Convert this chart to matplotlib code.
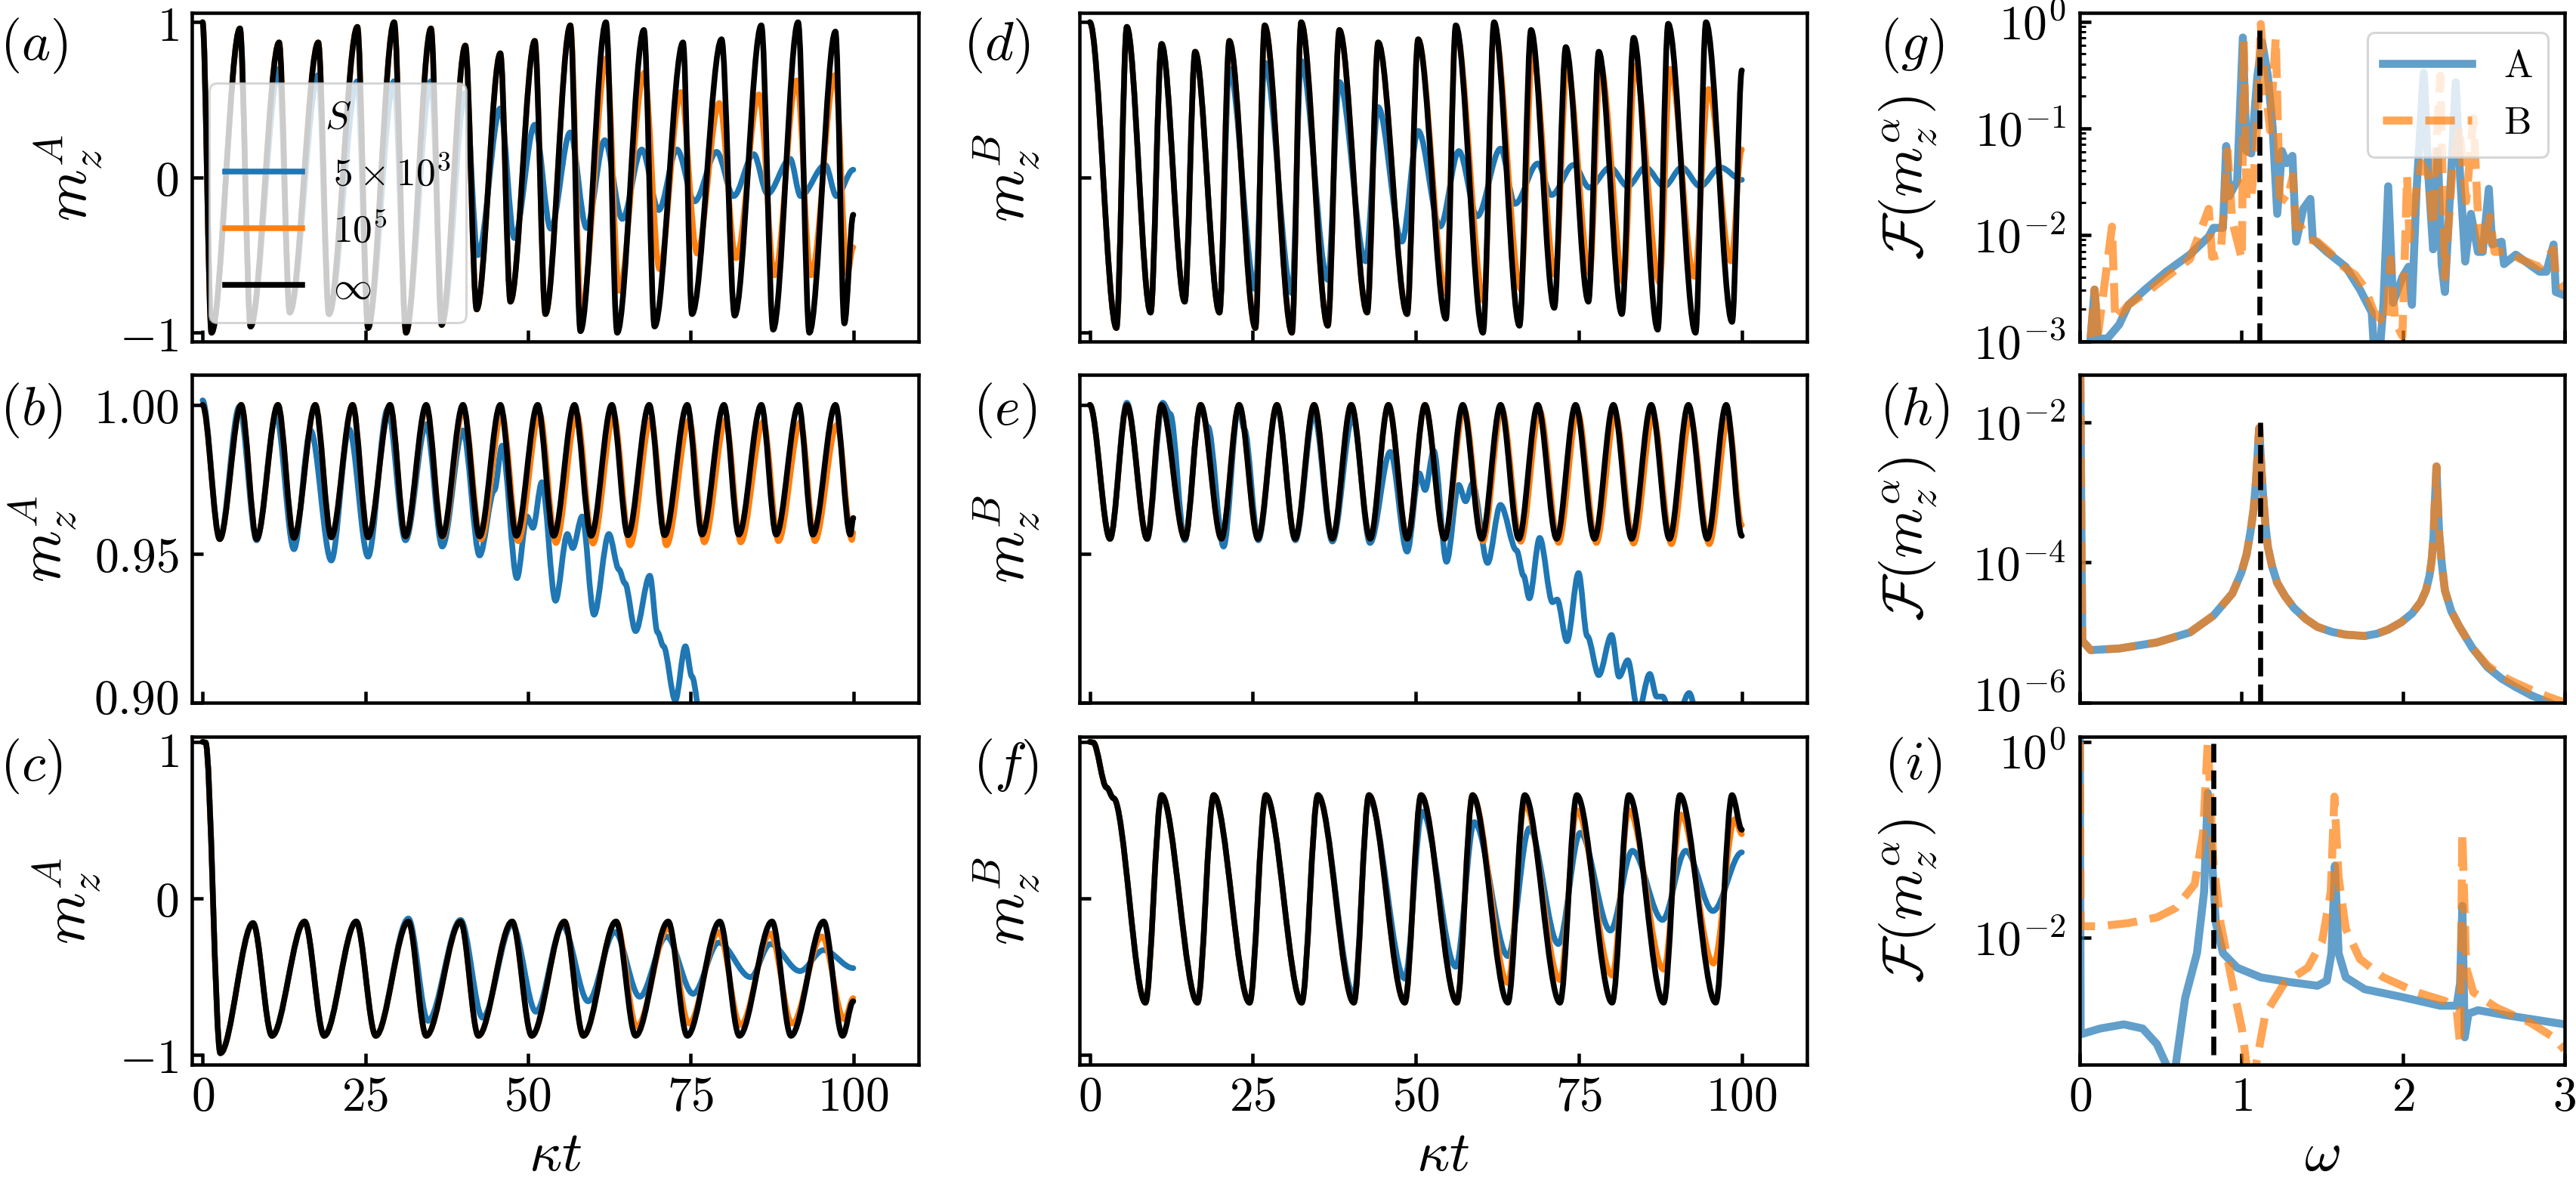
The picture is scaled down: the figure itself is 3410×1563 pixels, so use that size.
import matplotlib
matplotlib.use("Agg")
import matplotlib.pyplot as plt
from matplotlib.path import Path
from matplotlib.patches import PathPatch
from matplotlib.lines import Line2D
from matplotlib.ticker import LogLocator, NullLocator, NullFormatter
from matplotlib.transforms import ScaledTranslation

plt.rcParams['mathtext.fontset'] = 'cm'
plt.rcParams['font.family'] = 'serif'
plt.rcParams['axes.linewidth'] = 1.5

# ---------------- time series m_z (kappa t, value) ----------------
# panel (a): m_z^A, S = inf / 1e5 / 5e3
a_inf = [(0, 1.0), (1.37, -1.0), (5.74, 0.96), (7.38, -0.96), (11.76, 0.87), (13.40, -0.87),
         (17.78, 0.87), (19.42, -0.88), (23.79, 0.97), (25.43, -0.97), (29.44, 1.0), (31.27, -1.0),
         (35.10, 0.96), (36.74, -0.95), (40.38, 0.85), (42.12, -0.85), (45.76, 0.80), (47.31, -0.80),
         (51.05, 0.88), (52.69, -0.88), (56.52, 0.98), (58.07, -0.99), (61.99, 1.0), (63.72, -1.0),
         (67.82, 0.95), (69.46, -0.96), (73.84, 0.87), (75.21, -0.88), (79.76, 0.89), (81.77, -0.89),
         (85.87, 0.98), (87.69, -0.98), (91.52, 1.0), (93.25, -1.0), (97.26, 0.94), (98.63, -0.94),
         (100, -0.24)]
a_1e5 = a_inf[:21] + [(58.2, -0.87), (62.1, 0.77), (64.0, -0.73), (67.9, 0.675), (70.2, -0.59),
                      (73.5, 0.55), (76.0, -0.49), (79.4, 0.48), (82.0, -0.52), (85.5, 0.535),
                      (87.9, -0.63), (91.3, 0.625), (93.5, -0.63), (97.2, 0.66), (99.1, -0.62),
                      (100, -0.45)]
a_5e3 = a_inf[:4] + [(11.76, 0.70), (13.40, -0.87), (17.78, 0.66), (19.42, -0.88), (23.79, 0.62),
                     (25.43, -0.95), (29.44, 0.62), (31.27, -0.97), (35.10, 0.62), (36.9, -0.92),
                     (40.38, 0.545), (42.3, -0.50), (45.76, 0.445), (47.9, -0.39), (51.05, 0.34),
                     (53.5, -0.33), (56.5, 0.29), (59.0, -0.325), (61.8, 0.24), (64.5, -0.267),
                     (67.5, 0.18), (70.1, -0.21), (72.9, 0.18), (75.6, -0.154), (79.0, 0.165),
                     (81.6, -0.12), (84.7, 0.15), (86.8, -0.105), (90.3, 0.12), (91.9, -0.12),
                     (95.7, 0.081), (97.4, -0.12), (100, 0.05)]

# panel (b): m_z^A
b_inf = [(0, 1.0), (2.64, 0.9549), (5.93, 1.0), (8.30, 0.9549), (11.58, 1.0), (14.04, 0.9553),
         (17.32, 1.0), (19.78, 0.9555), (23.06, 1.0), (25.43, 0.9555), (28.81, 1.0), (31.18, 0.9558),
         (34.37, 1.0), (36.83, 0.9558), (40.02, 1.0), (42.57, 0.9558), (45.76, 1.0), (48.22, 0.956),
         (51.50, 1.0), (53.97, 0.956), (57.16, 1.0), (59.71, 0.956), (62.90, 1.0), (65.36, 0.9562),
         (68.64, 1.0), (71.01, 0.9562), (74.48, 1.0), (76.75, 0.9564), (80.13, 1.0), (82.41, 0.9564),
         (85.87, 1.0), (88.15, 0.9564), (91.61, 1.0), (93.80, 0.9564), (97.26, 1.0), (99.54, 0.9564),
         (100, 0.962)]
b_1e5 = b_inf[:12] + [(34.4, 0.9992), (36.9, 0.9556), (40.1, 0.9985), (42.8, 0.9548), (46.0, 0.9971),
                      (48.5, 0.9542), (51.8, 0.9971), (54.3, 0.9536), (57.5, 0.997), (60.0, 0.9534),
                      (63.2, 0.9965), (65.7, 0.9528), (68.9, 0.9953), (71.3, 0.9528), (74.8, 0.995),
                      (77.1, 0.9538), (80.4, 0.995), (82.7, 0.9538), (86.2, 0.9944), (88.5, 0.9542),
                      (91.9, 0.9942), (94.1, 0.9542), (97.5, 0.9933), (99.8, 0.9546), (100, 0.957)]
b_5e3 = [(0, 1.0015), (2.64, 0.9549), (5.65, 0.9994), (8.30, 0.9545), (11.30, 0.9964), (14.04, 0.9515),
         (16.59, 0.9914), (19.78, 0.9477), (22.52, 0.9918), (25.43, 0.9490), (28.44, 0.9986),
         (31.18, 0.9545), (34.37, 0.9935), (36.83, 0.9524), (40.02, 0.9914), (42.57, 0.9494),
         (44.85, 0.9714), (46.03, 0.9863), (48.31, 0.9418), (49.86, 0.9625), (50.77, 0.9587),
         (52.14, 0.9740), (54.24, 0.9342), (56.06, 0.9566), (56.88, 0.9519), (58.34, 0.9625),
         (60.16, 0.9295), (62.44, 0.9566), (63.99, 0.9447), (64.9, 0.9401), (66.55, 0.9240),
         (68.73, 0.9426), (69.92, 0.9236), (70.83, 0.9189), (72.65, 0.9007), (74.20, 0.9189),
         (75.21, 0.9087), (76.75, 0.8918)]

# panel (c): m_z^A
c_inf = [(0, 1.0), (0.46, 0.996), (2.73, -0.99), (7.75, -0.158), (10.67, -0.879), (15.68, -0.148),
         (18.69, -0.879), (23.61, -0.148), (26.62, -0.879), (31.63, -0.148), (34.37, -0.879),
         (39.65, -0.148), (42.39, -0.879), (47.58, -0.148), (50.59, -0.879), (55.61, -0.148),
         (58.52, -0.879), (63.54, -0.148), (66.55, -0.879), (71.56, -0.148), (74.48, -0.879),
         (79.49, -0.148), (82.50, -0.879), (87.51, -0.148), (90.43, -0.879), (95.44, -0.148),
         (98.36, -0.879), (100, -0.658)]
c_1e5 = c_inf[:18] + [(66.73, -0.821), (71.56, -0.187), (74.75, -0.80), (79.31, -0.215), (82.68, -0.81),
                      (87.24, -0.225), (90.61, -0.80), (95.17, -0.244), (98.63, -0.773), (100, -0.638)]
c_5e3 = c_inf[:9] + [(31.63, -0.129), (34.64, -0.783), (39.65, -0.138), (43.03, -0.763), (47.58, -0.167),
                     (51.23, -0.725), (55.33, -0.177), (59.25, -0.658), (63.35, -0.215), (67.18, -0.629),
                     (71.29, -0.244), (75.39, -0.61), (79.31, -0.283), (84.23, -0.504), (87.24, -0.292),
                     (91.80, -0.465), (95.44, -0.331), (100, -0.446)]

# panel (d): m_z^B
d_inf = [(0, 1.0), (4.09, -0.97), (5.68, 0.97), (9.33, -0.87), (11.01, 0.86), (14.56, -0.80),
         (16.16, 0.81), (19.89, -0.87), (21.40, 0.88), (25.40, -0.97), (26.82, 0.98), (31.0, -1.0),
         (32.42, 1.0), (36.5, -0.955), (38.28, 0.95), (42.54, -0.87), (44.23, 0.87), (48.67, -0.88),
         (50.36, 0.89), (54.62, -0.91), (56.13, 0.98), (60.3, -1.0), (62.0, 1.0), (65.9, -0.955),
         (67.67, 0.95), (71.23, -0.84), (73.0, 0.84), (76.47, -0.80), (78.06, 0.81), (81.6, -0.88),
         (83.4, 0.90), (87.1, -0.98), (88.7, 0.99), (92.9, -1.0), (94.5, 1.0), (98.5, -0.93),
         (100, 0.69)]
d_1e5 = d_inf[:19] + [(54.62, -0.75), (56.13, 0.96), (60.5, -0.80), (62.0, 0.98), (66.1, -0.72),
                      (67.9, 0.80), (71.4, -0.63), (73.2, 0.72), (76.7, -0.62), (78.3, 0.73),
                      (81.9, -0.68), (83.6, 0.72), (87.4, -0.68), (89.0, 0.70), (92.7, -0.64),
                      (94.9, 0.57), (98.3, -0.54), (100, 0.18)]
d_5e3 = d_inf[:8] + [(21.4, 0.70), (25.4, -0.72), (26.82, 0.74), (31.0, -0.745), (32.42, 0.75),
                     (36.5, -0.66), (38.28, 0.615), (42.3, -0.54), (44.23, 0.453), (47.87, -0.413),
                     (50.36, 0.30), (53.73, -0.316), (56.6, 0.17), (59.4, -0.25), (63.0, 0.186),
                     (65.2, -0.17), (68.7, 0.09), (70.8, -0.113), (74.2, 0.081), (76.6, -0.065),
                     (79.8, 0.065), (82.5, -0.057), (85.2, 0.065), (88.1, -0.057), (90.8, 0.065),
                     (93.6, -0.057), (96.7, 0.065), (100, -0.015)]

# panel (e): m_z^B
e_inf = [(0, 1.0), (3.1, 0.955), (5.7, 1.0), (8.8, 0.955), (11.0, 1.0), (14.6, 0.955), (17.0, 1.0),
         (20.2, 0.955), (22.9, 1.0), (25.8, 0.955), (28.7, 1.0), (31.5, 0.955), (34.4, 1.0),
         (37.2, 0.955), (40.1, 1.0), (43.0, 0.955), (45.8, 1.0), (48.7, 0.955), (51.4, 1.0),
         (54.4, 0.955), (57.2, 1.0), (60.1, 0.955), (63.0, 1.0), (65.8, 0.955), (68.7, 1.0),
         (71.6, 0.955), (74.5, 1.0), (77.4, 0.955), (80.3, 1.0), (83.1, 0.955), (86.1, 1.0),
         (88.9, 0.955), (91.8, 1.0), (94.7, 0.955), (97.6, 1.0), (100, 0.956)]
e_1e5 = e_inf[:20] + [(57.4, 0.9985), (60.3, 0.9541), (63.2, 0.9986), (66.1, 0.954), (69.0, 0.9981),
                      (71.9, 0.9536), (74.8, 0.9977), (77.7, 0.9536), (80.6, 0.9969), (83.4, 0.9534),
                      (86.4, 0.9965), (89.2, 0.9532), (92.1, 0.9956), (95.0, 0.9532), (97.9, 0.9952),
                      (100, 0.9596)]
e_5e3 = [(0, 1.0), (3.11, 0.9549), (5.68, 1.0007), (8.79, 0.9549), (11.19, 1.0007), (12.34, 0.9969),
         (14.56, 0.9545), (16.96, 0.9994), (18.12, 0.9926), (20.52, 0.9524), (22.82, 0.9994),
         (23.71, 0.9918), (25.84, 0.9545), (28.69, 0.9994), (31.53, 0.9545), (34.37, 0.9969),
         (37.21, 0.9541), (40.32, 0.996), (42.98, 0.9536), (46.09, 0.9842), (48.67, 0.9507),
         (50.53, 0.977), (51.42, 0.9714), (52.75, 0.9846), (54.71, 0.9473), (56.57, 0.9731),
         (57.64, 0.9676), (58.70, 0.9736), (61.01, 0.9469), (62.97, 0.9664), (65.45, 0.9511),
         (66.52, 0.9426), (67.41, 0.935), (69.0, 0.9553), (70.96, 0.9337), (71.67, 0.9346),
         (73.18, 0.9206), (74.96, 0.9435), (76.29, 0.9223), (78.06, 0.9092), (80.02, 0.9227),
         (81.17, 0.9087), (82.5, 0.9142), (84.1, 0.8969), (85.88, 0.9096), (86.94, 0.902),
         (87.83, 0.902), (89.6, 0.8918), (91.92, 0.9032), (93.6, 0.8918)]

# panel (f): m_z^B
f_inf = [(0, 1.0), (0.53, 0.996), (2.58, 0.708), (3.64, 0.64), (8.53, -0.667), (11.01, 0.66),
         (16.52, -0.667), (19.0, 0.66), (24.51, -0.667), (27.0, 0.66), (32.5, -0.667), (34.99, 0.66),
         (40.5, -0.667), (42.81, 0.66), (48.31, -0.667), (50.8, 0.66), (56.31, -0.667), (58.7, 0.66),
         (64.12, -0.667), (66.7, 0.66), (72.11, -0.667), (74.69, 0.66), (80.11, -0.667), (82.68, 0.66),
         (88.01, -0.667), (90.5, 0.66), (96.0, -0.667), (98.49, 0.66), (100, 0.438)]
f_1e5 = f_inf[:18] + [(64.12, -0.542), (66.7, 0.602), (72.11, -0.523), (74.69, 0.563), (80.11, -0.494),
                      (82.68, 0.563), (88.01, -0.456), (90.68, 0.535), (95.65, -0.417), (98.93, 0.506),
                      (100, 0.41)]
f_5e3 = f_inf[:12] + [(40.5, -0.62), (42.81, 0.64), (48.31, -0.513), (50.98, 0.554), (56.13, -0.437),
                      (58.97, 0.487), (64.12, -0.369), (67.41, 0.448), (71.85, -0.292), (75.22, 0.419),
                      (79.84, -0.206), (83.21, 0.304), (87.83, -0.138), (91.39, 0.304), (95.56, -0.081),
                      (100, 0.294)]

# ---------------- spectra F(m_z^alpha) (omega, value) ----------------
g_A = [(0.067, 1.09e-3), (0.091, 3.06e-3), (0.111, 1.06e-3), (0.170, 1.06e-3), (0.243, 1.43e-3),
       (0.301, 2.2e-3), (0.404, 3.06e-3), (0.535, 4.5e-3), (0.681, 6.5e-3), (0.798, 9.6e-3),
       (0.827, 1.16e-2), (0.886, 1.16e-2), (0.906, 6.8e-2), (0.924, 2.3e-2), (0.974, 3.2e-2),
       (1.009, 0.71), (1.032, 6.1e-2), (1.061, 5.8e-2), (1.099, 0.31), (1.129, 0.64), (1.164, 0.31),
       (1.193, 0.105), (1.222, 1.57e-2), (1.251, 6.1e-2), (1.281, 4.7e-2), (1.316, 5.5e-2),
       (1.339, 8.6e-3), (1.383, 1.75e-2), (1.427, 2.17e-2), (1.442, 9.1e-3), (1.529, 6.9e-3),
       (1.646, 5.0e-3), (1.734, 3.06e-3), (1.807, 1.87e-3), (1.822, 8e-4), (1.857, 8e-4),
       (1.88, 2.3e-3), (1.909, 2.85e-2), (1.939, 2.3e-3), (1.997, 4.0e-3), (2.035, 5.0e-3),
       (2.056, 2.2e-3), (2.085, 2.7e-2), (2.129, 0.33), (2.158, 3.55e-2), (2.187, 7.3e-3),
       (2.216, 6.1e-2), (2.240, 5.3e-3), (2.260, 2.9e-3), (2.298, 3.55e-2), (2.327, 0.27),
       (2.354, 3.55e-2), (2.386, 5.6e-3), (2.421, 1.57e-2), (2.465, 6.9e-3), (2.494, 6.9e-3),
       (2.532, 2.7e-2), (2.553, 8.1e-3), (2.611, 8.6e-3), (2.626, 5.3e-3), (2.699, 6.5e-3),
       (2.845, 4.5e-3), (2.889, 4.5e-3), (2.933, 8.1e-3), (2.947, 2.9e-3), (3.0, 2.7e-3)]
g_B = [(0.067, 1.09e-3), (0.091, 3.06e-3), (0.114, 1.21e-3), (0.199, 1.19e-2), (0.219, 1.59e-3),
       (0.301, 2.2e-3), (0.418, 2.9e-3), (0.535, 4.0e-3), (0.681, 5.9e-3), (0.798, 1.75e-2),
       (0.819, 6.2e-3), (0.871, 6.5e-3), (0.892, 1.75e-2), (0.915, 6.1e-2), (0.944, 1.33e-2),
       (1.003, 5.9e-3), (1.015, 0.67), (1.032, 2.06e-2), (1.061, 2.3e-2), (1.091, 6.1e-2),
       (1.12, 0.95), (1.149, 0.24), (1.178, 9.5e-2), (1.213, 0.71), (1.237, 2.3e-2), (1.281, 2.06e-2),
       (1.319, 3.55e-2), (1.339, 1.19e-2), (1.368, 1.19e-2), (1.412, 9.1e-3), (1.471, 8.6e-3),
       (1.544, 6.9e-3), (1.632, 5.0e-3), (1.705, 4.2e-3), (1.763, 3.2e-3), (1.822, 1.87e-3),
       (1.895, 1.43e-3), (1.924, 5.9e-3), (1.953, 1.5e-3), (1.997, 1.12e-3), (2.026, 3.55e-2),
       (2.041, 9.1e-3), (2.085, 2.7e-2), (2.114, 4.7e-2), (2.158, 3.55e-2), (2.187, 1.19e-2),
       (2.202, 4.7e-2), (2.231, 0.31), (2.260, 4.0e-3), (2.304, 3.55e-2), (2.348, 0.105),
       (2.392, 2.06e-2), (2.436, 0.124), (2.465, 1.57e-2), (2.494, 6.5e-3), (2.538, 1.48e-2),
       (2.567, 6.9e-3), (2.640, 6.9e-3), (2.728, 5.9e-3), (2.845, 5.0e-3), (2.933, 7.3e-3),
       (2.947, 4.0e-3), (3.0, 3.06e-3)]

h_A = [(0.003, 5.1e-2), (0.008, 1.0e-3), (0.015, 7.6e-6), (0.067, 5.6e-6), (0.243, 5.9e-6),
       (0.477, 7.2e-6), (0.681, 1.0e-5), (0.827, 1.74e-5), (0.944, 3.6e-5), (1.0, 7.2e-5),
       (1.032, 1.29e-4), (1.056, 2.7e-4), (1.076, 5.8e-4), (1.090, 1.4e-3), (1.099, 3.0e-3),
       (1.106, 6.0e-3), (1.111, 8.3e-3), (1.118, 4.0e-3), (1.126, 1.8e-3), (1.135, 8.7e-4),
       (1.148, 3.6e-4), (1.164, 1.66e-4), (1.19, 8.8e-5), (1.222, 5.1e-5), (1.27, 3.3e-5),
       (1.325, 2.24e-5), (1.40, 1.55e-5), (1.471, 1.2e-5), (1.56, 1.02e-5), (1.646, 9.3e-6),
       (1.763, 8.9e-6), (1.84, 9.6e-6), (1.909, 1.1e-5), (1.99, 1.4e-5), (2.056, 1.86e-5),
       (2.11, 2.7e-5), (2.143, 4.0e-5), (2.165, 6.5e-5), (2.178, 1.07e-4), (2.19, 2.4e-4),
       (2.196, 5.8e-4), (2.203, 1.3e-3), (2.208, 2.34e-3), (2.215, 8.0e-4), (2.225, 2.5e-4),
       (2.24, 1.0e-4), (2.26, 4.0e-5), (2.30, 2.0e-5), (2.348, 1.23e-5), (2.43, 6.0e-6),
       (2.523, 3.2e-6), (2.61, 2.2e-6), (2.699, 1.66e-6), (2.80, 1.25e-6), (2.904, 1.0e-6),
       (3.0, 7.9e-7)]
h_B = h_A[:50] + [(2.523, 3.4e-6), (2.61, 2.4e-6), (2.699, 1.9e-6), (2.80, 1.5e-6), (2.904, 1.2e-6),
                  (3.0, 1.0e-6)]

i_A = [(0.0, 1.0), (0.005, 1.02e-3), (0.126, 1.17e-3), (0.272, 1.29e-3), (0.389, 1.17e-3),
       (0.477, 8.1e-4), (0.535, 5.0e-4), (0.55, 3e-4), (0.58, 3e-4), (0.594, 5.0e-4), (0.652, 2.4e-3),
       (0.725, 6.9e-3), (0.769, 2.9e-2), (0.792, 0.30), (0.819, 5.9e-2), (0.842, 1.4e-2),
       (0.886, 6.9e-3), (0.974, 4.9e-3), (1.12, 3.9e-3), (1.295, 3.5e-3), (1.471, 3.2e-3),
       (1.529, 3.6e-3), (1.558, 6.9e-3), (1.579, 5.4e-2), (1.602, 6.9e-3), (1.646, 3.9e-3),
       (1.763, 2.95e-3), (1.997, 2.45e-3), (2.231, 2.0e-3), (2.333, 2.0e-3), (2.354, 3.4e-3),
       (2.368, 2.1e-2), (2.383, 9.5e-4), (2.406, 1.66e-3), (2.465, 1.8e-3), (2.640, 1.6e-3),
       (2.991, 1.3e-3)]
i_B = [(0.0, 1.0), (0.005, 1.3e-2), (0.126, 1.3e-2), (0.301, 1.4e-2), (0.477, 1.6e-2), (0.594, 2.0e-2),
       (0.711, 3.5e-2), (0.763, 0.117), (0.792, 1.0), (0.827, 5.9e-2), (0.871, 1.4e-2), (0.944, 3.4e-3),
       (1.003, 1.17e-3), (1.032, 5.0e-4), (1.05, 3e-4), (1.07, 3e-4), (1.091, 5.0e-4), (1.149, 1.66e-3),
       (1.266, 3.4e-3), (1.412, 4.9e-3), (1.5, 9.1e-3), (1.553, 2.9e-2), (1.576, 0.275), (1.602, 4.1e-2),
       (1.646, 1.23e-2), (1.734, 6.0e-3), (1.88, 3.9e-3), (2.085, 2.75e-3), (2.26, 2.24e-3),
       (2.333, 1.8e-3), (2.354, 8.1e-4), (2.368, 0.117), (2.392, 4.9e-3), (2.436, 2.75e-3),
       (2.582, 1.9e-3), (2.787, 1.35e-3), (2.933, 9.5e-4), (3.0, 7.1e-4)]

# dashed reference frequency: (omega, lower end, upper end)
g_ref = (1.11, 1e-3, 0.85)
h_ref = (1.115, 1e-6, 1e-2)
i_ref = (0.825, 6.3e-4, 1.0)

S_labels = [r'$5\times10^3$', r'$10^5$', r'$\infty$']
S_colors = ['tab:blue', 'tab:orange', 'k']
time_ticks = [0, 25, 50, 75, 100]
omega_ticks = [0, 1, 2, 3]


def smooth(ax, pts, color, lw=2.5):
    # cubic bezier through read-off extrema, flat tangent at each point
    verts = [pts[0]]
    codes = [Path.MOVETO]
    for (t0, v0), (t1, v1) in zip(pts[:-1], pts[1:]):
        d = (t1 - t0) / 3.0
        verts += [(t0 + d, v0), (t1 - d, v1), (t1, v1)]
        codes += [Path.CURVE4] * 3
    ax.add_patch(PathPatch(Path(verts, codes), fill=False, edgecolor=color, lw=lw,
                           capstyle='round', joinstyle='round'))


def nudge(ax, idx, dy_pt):
    # shift one y tick label a little so stacked panels' labels do not collide
    lab = ax.yaxis.get_major_ticks()[idx].label1
    lab.set_transform(lab.get_transform() + ScaledTranslation(0, dy_pt / 72, ax.figure.dpi_scale_trans))


fig = plt.figure(figsize=(3410 / 217.5, 1563.5 / 217.5), dpi=217.5)

lefts = [0.0746, 0.419, 0.8074]
widths = [0.2819, 0.2825, 0.1881]
bottoms = [0.7108, 0.4050, 0.0985]
height = 0.2777

axs = [[fig.add_axes([lefts[c], bottoms[r], widths[c], height]) for r in range(3)] for c in range(3)]

time_data = [[(a_5e3, a_1e5, a_inf), (b_5e3, b_1e5, b_inf), (c_5e3, c_1e5, c_inf)],
             [(d_5e3, d_1e5, d_inf), (e_5e3, e_1e5, e_inf), (f_5e3, f_1e5, f_inf)]]
ylims = [(-1.055, 1.058), (0.90, 1.0102), (-1.063, 1.034)]
yticks = [([-1, 0, 1], [r'$-1$', r'$0$', r'$1$']),
          ([0.90, 0.95, 1.00], [r'$0.90$', r'$0.95$', r'$1.00$']),
          ([-1, 0, 1], [r'$-1$', r'$0$', r'$1$'])]
ylab_x = [[-0.12, -0.155, -0.122], [-0.0507] * 3]
sub = ['A', 'B']

for c in range(2):
    for r in range(3):
        ax = axs[c][r]
        for pts, col in zip(time_data[c][r], S_colors):
            smooth(ax, pts, col)
        ax.set_xlim(-1.6, 110)
        ax.set_ylim(*ylims[r])
        ax.set_xticks(time_ticks)
        ax.set_yticks(yticks[r][0])
        ax.set_yticklabels(yticks[r][1])
        ax.tick_params(direction='in', length=5, width=1.5, labelsize=21, top=False, right=False)
        ax.tick_params(axis='y', pad=6)
        ax.tick_params(axis='x', pad=4)
        if c == 1:
            ax.tick_params(axis='y', labelleft=False)
        if r < 2:
            ax.tick_params(axis='x', labelbottom=False)
        else:
            ax.set_xticklabels([r'$%d$' % t for t in time_ticks])
            ax.set_xlabel(r'$\kappa t$', fontsize=25)
            ax.xaxis.set_label_coords(0.5, -0.19)
        ax.set_ylabel(r'$m_z^%s$' % sub[c], fontsize=26)
        ax.yaxis.set_label_coords(ylab_x[c][r], 0.5)

handles = [Line2D([], [], color=col, lw=2.5) for col in S_colors]
axs[0][0].legend(handles, S_labels, title=r'$S$', loc='lower left', bbox_to_anchor=(0.0235, 0.0576),
                 borderaxespad=0, fontsize=17, title_fontsize=17, handlelength=2.0, labelspacing=0.5)

spec = [(g_A, g_B, g_ref, (1e-3, 1.2), [1e-3, 1e-2, 1e-1, 1e0], [r'$10^{-3}$', r'$10^{-2}$', r'$10^{-1}$', r'$10^{0}$']),
        (h_A, h_B, h_ref, (1e-6, 0.048), [1e-6, 1e-4, 1e-2], [r'$10^{-6}$', r'$10^{-4}$', r'$10^{-2}$']),
        (i_A, i_B, i_ref, (5e-4, 1.13), [1e-2, 1e0], [r'$10^{-2}$', r'$10^{0}$'])]

for r, (A, B, ref, yl, yt, ytl) in enumerate(spec):
    ax = axs[2][r]
    wA, fA = zip(*A)
    wB, fB = zip(*B)
    ax.plot(wA, fA, color='tab:blue', alpha=0.7, lw=3.5, label='A')
    ax.plot(wB, fB, color='tab:orange', alpha=0.7, lw=3.5, ls='--', label='B')
    ax.plot([ref[0], ref[0]], [ref[1], ref[2]], color='k', ls='--', lw=2.2)
    ax.set_yscale('log')
    ax.set_xlim(0, 3)
    ax.set_ylim(*yl)
    ax.set_yticks(yt)
    ax.set_yticklabels(ytl)
    if r == 0:
        ax.yaxis.set_minor_locator(LogLocator(base=10, subs=range(2, 10)))
    else:
        ax.yaxis.set_minor_locator(NullLocator())
    ax.yaxis.set_minor_formatter(NullFormatter())
    ax.set_xticks(omega_ticks)
    ax.tick_params(direction='in', length=5, width=1.5, labelsize=21, top=False, right=False)
    ax.tick_params(which='minor', direction='in', length=2.5, width=1, right=False)
    ax.tick_params(axis='y', pad=6)
    ax.tick_params(axis='x', pad=4)
    if r < 2:
        ax.tick_params(axis='x', labelbottom=False)
    else:
        ax.set_xticklabels([r'$%d$' % w for w in omega_ticks])
        ax.set_xlabel(r'$\omega$', fontsize=25)
        ax.xaxis.set_label_coords(0.5, -0.19)
    ax.set_ylabel(r'$\mathcal{F}(m_z^\alpha)$', fontsize=25)
    ax.yaxis.set_label_coords(-0.291, 0.5)

axs[2][0].legend([r'$\mathrm{A}$', r'$\mathrm{B}$'], loc='upper right', bbox_to_anchor=(0.966, 0.942),
                 borderaxespad=0, fontsize=17, handlelength=2.3, labelspacing=0.5)

# keep the bottom label of the middle row clear of the top label of the last row
nudge(axs[0][1], 0, 3)
nudge(axs[0][2], 2, -3)
nudge(axs[2][1], 0, 4)
nudge(axs[2][2], 1, -4)

panel_pos = {'a': (0.0, 0.986), 'b': (0.0, 0.677), 'c': (0.0, 0.376),
             'd': (0.374, 0.986), 'e': (0.3777, 0.677), 'f': (0.3777, 0.376),
             'g': (0.7296, 0.986), 'h': (0.7296, 0.677), 'i': (0.7314, 0.377)}
for k, (x, y) in panel_pos.items():
    fig.text(x, y, r'$(%s)$' % k, fontsize=24, ha='left', va='top')

fig.savefig('out.png', dpi=217.5)
